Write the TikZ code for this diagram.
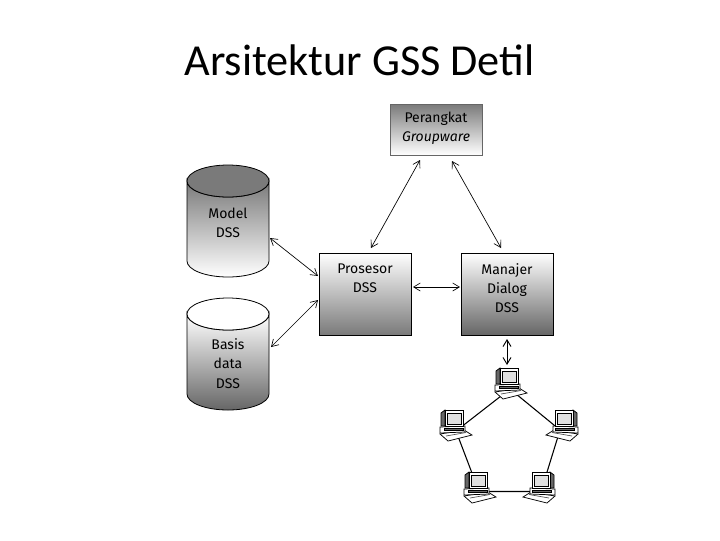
\documentclass[tikz,border=0pt]{standalone}
\usepackage{fontspec}
\setmainfont{Carlito}
\newfontfamily\boxfont{Fira Sans}
\usetikzlibrary{arrows.meta}
\definecolor{midgray}{HTML}{7A7A7A}
\definecolor{darkgray}{HTML}{666666}
\tikzset{
  x=0.75pt,y=-0.75pt,
  box/.style={draw=black,line width=0.6pt,minimum width=69pt,minimum height=61.5pt,inner sep=0pt},
  label/.style={font=\boxfont\fontsize{10.5}{14.4}\selectfont,align=center,text=black},
  link/.style={line width=0.5pt,black,{Straight Barb[length=5pt,width=6pt]}-{Straight Barb[length=5pt,width=6pt]}},
  netline/.style={line width=0.8pt,black},
  pcpart/.style={draw=black,line width=0.55pt,fill=white},
  pcdark/.style={draw=black,line width=0.55pt,fill=black!60},
  pcnode/.style={circle,minimum size=1pt,inner sep=0pt},
  pics/pcicon/.style={code={
    \draw[pcpart] (-13,9) -- (-5,16) -- (19,10) -- (11,5) -- cycle;
    \draw[black!70,line width=0.5pt] (-7,11) -- (13,7.5);
    \draw[pcpart] (-13,2) -- (12,1) -- (12,7) -- (-13,8) -- cycle;
    \draw[pcdark] (-12,-12) -- (-8,-15) -- (-8,1) -- (-12,1) -- cycle;
    \draw[pcpart] (-8,-15) -- (10,-15) -- (10,1) -- (-8,1) -- cycle;
    \draw[draw=black,line width=0.4pt,fill=black!12] (-6,-12) -- (8,-12) -- (8,-1) -- (-6,-1) -- cycle;
    \draw[pcdark] (-9,3.2) -- (10,3.2) -- (10,5.6) -- (-9,5.6) -- cycle;
  }}
}
\begin{document}
\begin{tikzpicture}
\useasboundingbox (0,0) rectangle (720,540);
\fill[white] (0,0) rectangle (720,540);
\node[font=\fontsize{33.2}{36}\selectfont,text=black] (title) at (359.5,60) {Arsitektur GSS Detil};

% boxes
\node[box,draw=black!60,minimum height=38.25pt,top color=midgray,bottom color=white] (grp) at (436,129.5) {};
\node[label] (grpt) at (436,128) {Perangkat\\\textit{Groupware}};
\node[box,top color=white,bottom color=midgray] (proc) at (365,294) {};
\node[label] (proct) at (365,278.5) {Prosesor\\DSS};
\node[box,top color=white,bottom color=darkgray] (dlg) at (507,294) {};
\node[label] (dlgt) at (507,288) {Manajer\\Dialog\\DSS};

% cylinders
\shade[top color=midgray,bottom color=white,draw=black,line width=0.6pt]
  (187,181) -- (187,261) arc[start angle=180,end angle=0,x radius=41,y radius=16] -- (269,181) arc[start angle=0,end angle=180,x radius=41,y radius=16] -- cycle;
\draw[fill=midgray,draw=black,line width=0.6pt] (228,181) ellipse[x radius=41,y radius=16];
\shade[top color=white,bottom color=darkgray,draw=black,line width=0.6pt]
  (187,314) -- (187,394) arc[start angle=180,end angle=0,x radius=41,y radius=16] -- (269,314) arc[start angle=0,end angle=180,x radius=41,y radius=16] -- cycle;
\draw[fill=white,draw=black,line width=0.6pt] (228,314) ellipse[x radius=41,y radius=16];
\node[label] (model) at (228,222.5) {Model\\DSS};
\node[label] (basis) at (228,363.5) {Basis\\data\\DSS};

% arrow ends
\coordinate (a1) at (420,160); \coordinate (a2) at (371,248);
\coordinate (b1) at (452,161); \coordinate (b2) at (501,248);
\coordinate (c1) at (413,287); \coordinate (c2) at (460,287);
\coordinate (d1) at (270,238); \coordinate (d2) at (318,276);
\coordinate (e1) at (271,347); \coordinate (e2) at (318,300);
\coordinate (f1) at (507,339); \coordinate (f2) at (507,365);
\draw[link] (a1) -- (a2);
\draw[link] (b1) -- (b2);
\draw[link] (c1) -- (c2);
\draw[link] (d1) -- (d2);
\draw[link] (e1) -- (e2);
\draw[link,line width=0.7pt] (f1) -- (f2);

% network
\node[pcnode] (pc1) at (510,389) {};
\node[pcnode] (pc2) at (456,431) {};
\node[pcnode] (pc3) at (560,430) {};
\node[pcnode] (pc4) at (479,491.5) {};
\node[pcnode] (pc5) at (541,491.5) {};
\draw[netline] (pc1.center) -- (pc2.center) -- (pc4.center) -- (pc5.center) -- (pc3.center) -- (pc1.center);
\pic at (508,383) {pcicon};
\pic at (453,425) {pcicon};
\pic[xscale=-1] at (565,425) {pcicon};
\pic at (477,487) {pcicon};
\pic[xscale=-1] at (542,487) {pcicon};
\end{tikzpicture}
\end{document}
